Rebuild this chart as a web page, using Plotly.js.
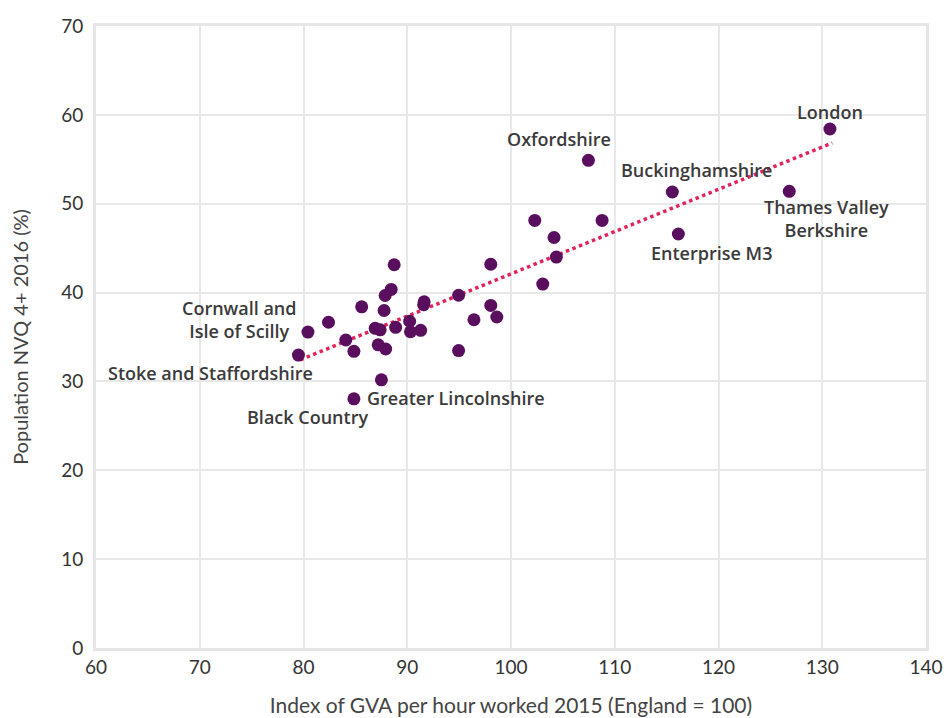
<!DOCTYPE html>
<html>
<head>
<meta charset="utf-8">
<script src="https://cdn.plot.ly/plotly-3.0.1.min.js"></script>
<style>html,body{margin:0;padding:0;background:#fff;}#chart{width:944px;height:718px;}</style>
</head>
<body>
<div id="chart"></div>
<script>
// GVA index (England = 100) per LEP, 2015
const gvaIndex = [130.74, 107.46, 115.55, 126.82, 116.13, 102.29, 108.78, 104.15, 104.37, 103.06,
  88.74, 98.05, 88.45, 87.87, 85.61, 87.77, 91.63, 91.58, 94.95, 98.05,
  82.41, 80.43, 90.23, 96.43, 98.63, 86.91, 87.39, 88.88, 90.31, 91.29,
  84.08, 79.51, 84.86, 87.20, 87.92, 94.95, 87.51, 84.86];
// Population NVQ 4+ 2016 (%)
const nvq4 = [58.41, 54.88, 51.32, 51.39, 46.59, 48.12, 48.12, 46.20, 44.00, 40.96,
  43.13, 43.19, 40.35, 39.67, 38.40, 37.98, 38.96, 38.63, 39.70, 38.55,
  36.66, 35.55, 36.77, 36.94, 37.25, 35.98, 35.81, 36.09, 35.59, 35.75,
  34.66, 32.97, 33.39, 34.12, 33.65, 33.47, 30.18, 28.04];
// Point labels ("" = unlabelled)
const pointLabels = ["London", "Oxfordshire", "Buckinghamshire", "Thames Valley<br>Berkshire", "Enterprise M3",
  "", "", "", "", "", "", "", "", "", "", "", "", "", "", "",
  "", "Cornwall and<br>Isle of Scilly", "", "", "", "", "", "", "", "",
  "", "Stoke and Staffordshire", "", "", "", "", "Greater Lincolnshire", "Black Country"];
// Trend line end points
const trendX = [79.68, 130.96];
const trendY = [32.43, 56.84];
// Axis ticks
const xTicks = [60, 70, 80, 90, 100, 110, 120, 130, 140];
const yTicks = [0, 10, 20, 30, 40, 50, 60, 70];

// label offsets (pixels) keyed by label
const labelOffsets = {
  "London": [0, 17],
  "Oxfordshire": [-29, 21],
  "Buckinghamshire": [24, 22],
  "Thames Valley<br>Berkshire": [37, -27],
  "Enterprise M3": [33, -19],
  "Cornwall and<br>Isle of Scilly": [-68, 13],
  "Stoke and Staffordshire": [-88, -18],
  "Greater Lincolnshire": [75, -18],
  "Black Country": [-46, -18]
};

const annotations = [];
pointLabels.forEach((t, i) => {
  if (!t) return;
  const o = labelOffsets[t] || [0, 0];
  annotations.push({
    x: gvaIndex[i], y: nvq4[i], xref: 'x', yref: 'y',
    text: t, showarrow: false, xanchor: 'center', yanchor: 'middle',
    xshift: o[0], yshift: o[1], align: 'center',
    font: {family: 'Open Sans, Lato, sans-serif', size: 18, color: '#3a3a3a', weight: 600}
  });
});

const traces = [
  {
    x: trendX, y: trendY, mode: 'lines', type: 'scatter', hoverinfo: 'skip',
    line: {color: '#e0245a', width: 3.5, dash: 'dot'}
  },
  {
    x: gvaIndex, y: nvq4, mode: 'markers', type: 'scatter', text: pointLabels,
    marker: {color: '#5a0f5e', size: 13, line: {width: 0}}
  }
];

const axisFont = {family: 'Lato, Open Sans, sans-serif', size: 19, color: '#333333'};
const titleFont = {family: 'Lato, Open Sans, sans-serif', size: 21, color: '#444444'};
const layout = {
  width: 944, height: 718,
  margin: {l: 96, r: 18, t: 26, b: 70},
  paper_bgcolor: '#ffffff', plot_bgcolor: '#ffffff',
  showlegend: false,
  xaxis: {
    range: [60, 140], tickvals: xTicks, ticktext: xTicks.map(String),
    showgrid: true, gridcolor: '#e8e8e8', gridwidth: 2, zeroline: false,
    showline: true, mirror: true, linecolor: '#e6e6e6', linewidth: 3,
    ticks: '', tickfont: axisFont,
    title: {text: 'Index of GVA per hour worked 2015 (England = 100)', standoff: 22, font: titleFont}
  },
  yaxis: {
    range: [0, 70], tickvals: yTicks, ticktext: yTicks.map(String),
    showgrid: true, gridcolor: '#e8e8e8', gridwidth: 2, zeroline: false,
    showline: true, mirror: true, linecolor: '#e6e6e6', linewidth: 3,
    ticks: '', ticklabelstandoff: 6, tickfont: axisFont,
    title: {text: 'Population NVQ 4+ 2016 (%)', standoff: 28, font: {family: 'Lato, Open Sans, sans-serif', size: 20, color: '#444444'}}
  },
  annotations: annotations
};

Plotly.newPlot('chart', traces, layout, {displayModeBar: false, staticPlot: true});
</script>
</body>
</html>
